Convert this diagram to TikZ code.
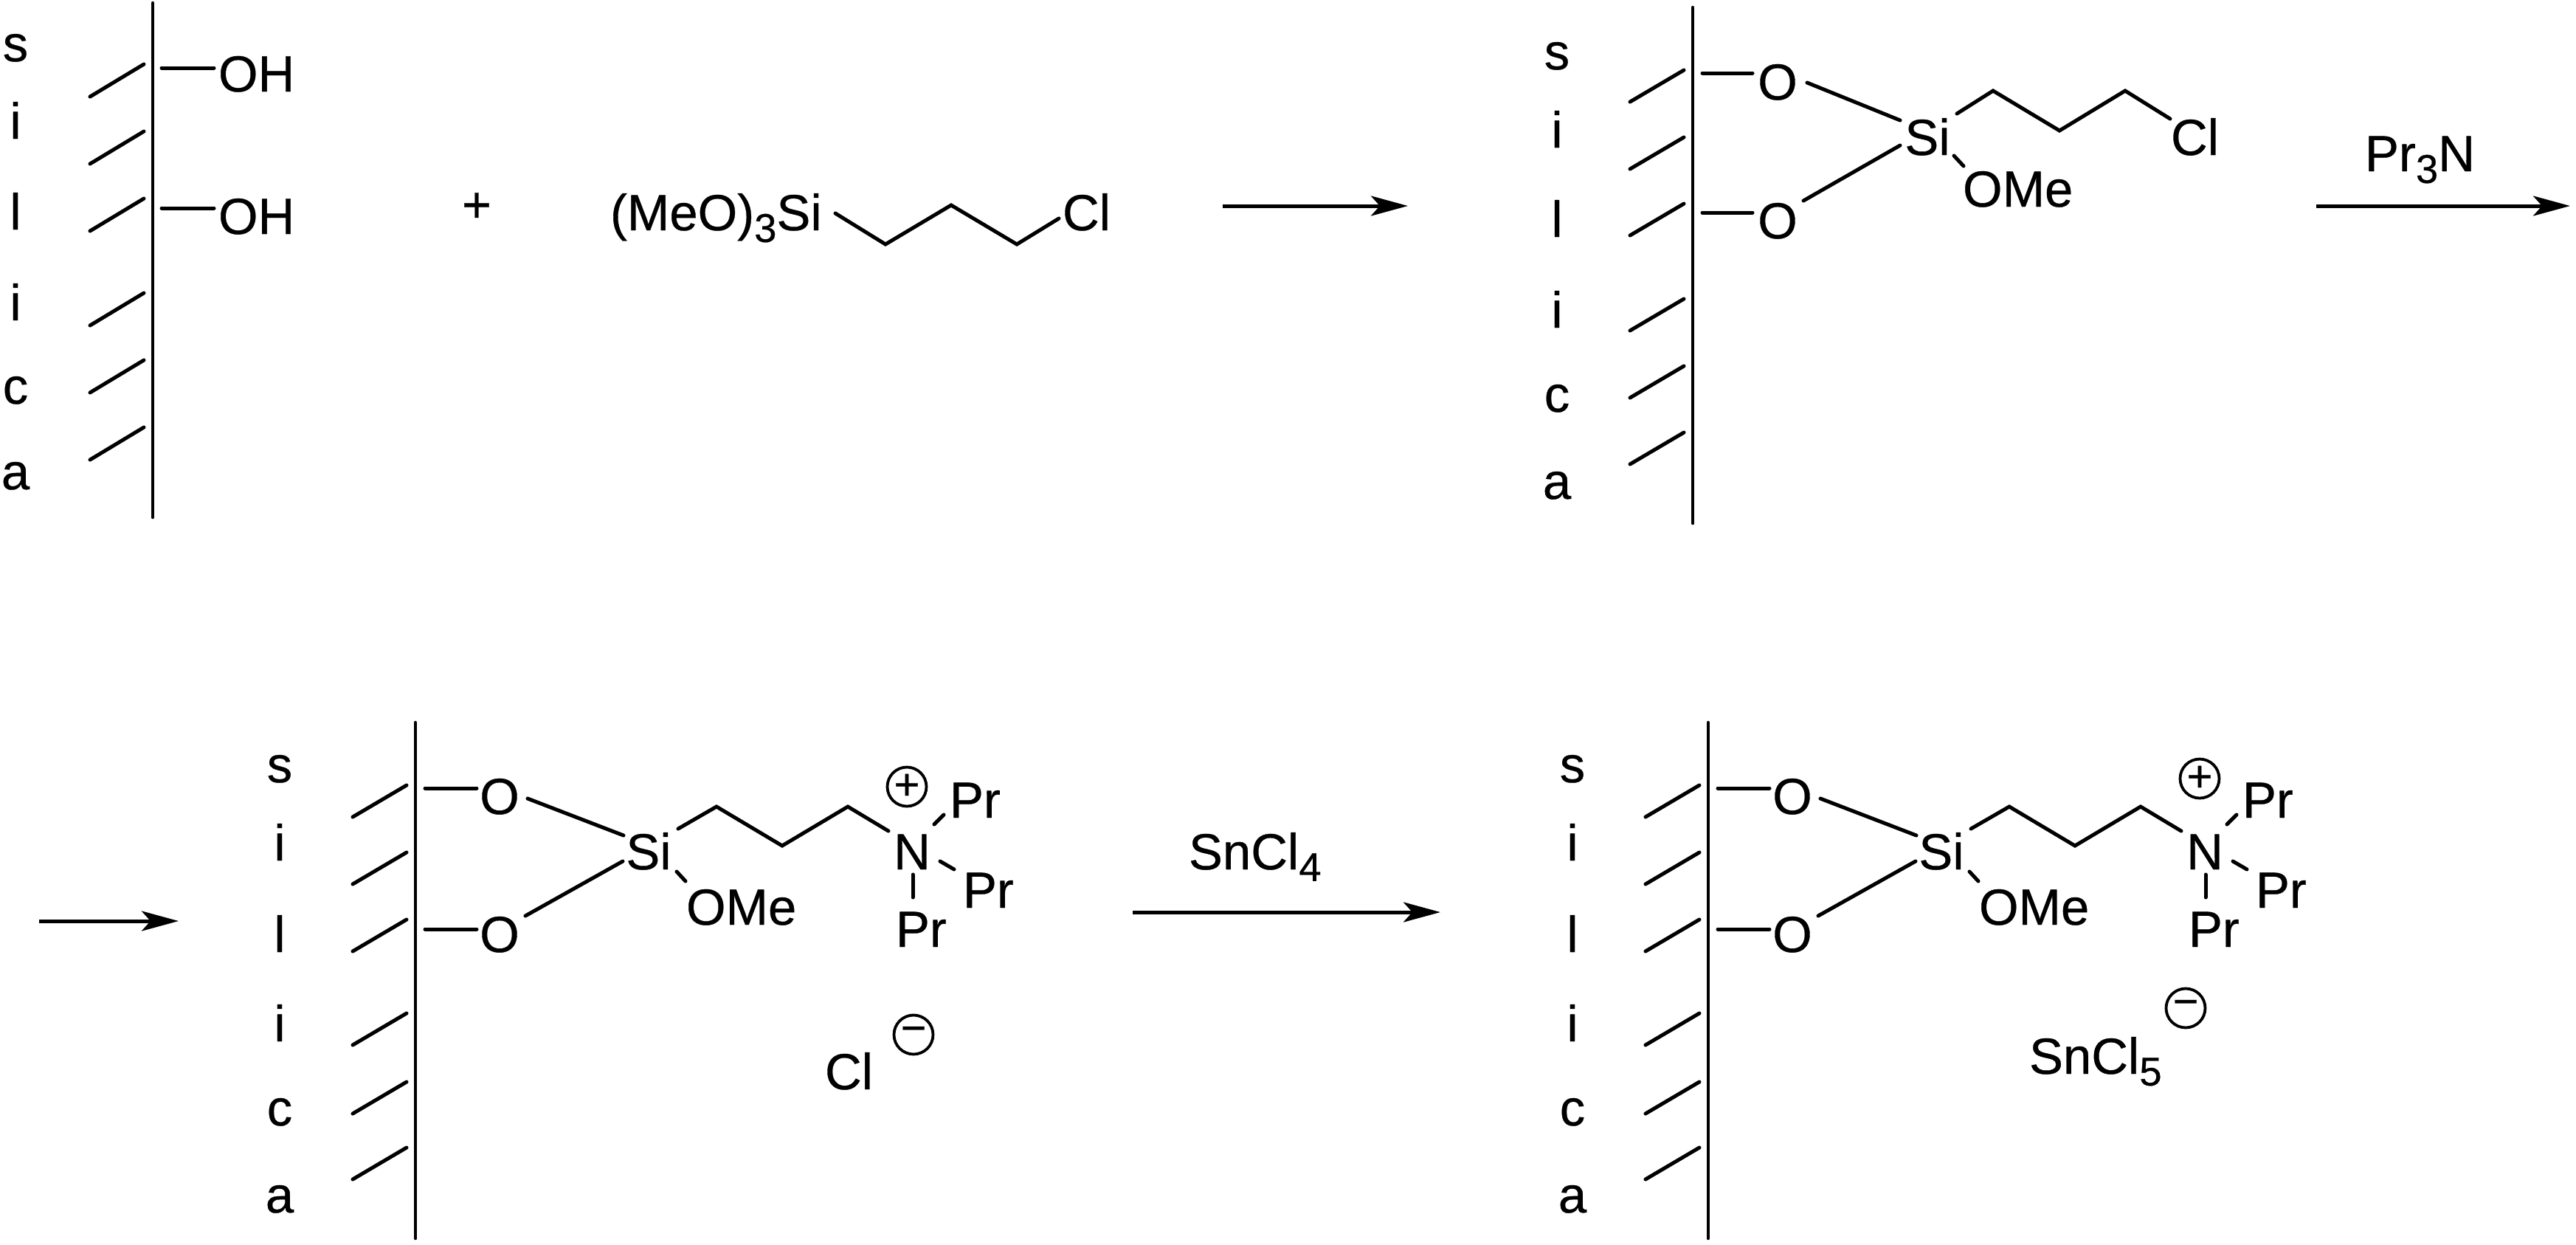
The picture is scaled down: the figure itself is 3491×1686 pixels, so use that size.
\documentclass[tikz,border=0pt]{standalone}
\usepackage{fontspec}
\setmainfont{Liberation Sans}[FakeBold=0.5]
\usetikzlibrary{arrows.meta}
\newcommand\sbs[1]{\raisebox{-4.5pt}{\fontsize{15.5}{15.5}\selectfont #1}}
\tikzset{
  x=0.1mm,y=-0.1mm,
  bond/.style={line width=0.5mm,line cap=round,line join=miter,black},
  wallline/.style={line width=0.45mm,line cap=round,black},
  rxn/.style={line width=0.5mm,black,-{Stealth[length=5mm,width=2.7mm,inset=1.2mm]}},
  atom/.style={inner sep=0pt,outer sep=0pt,font=\fontsize{19.6}{20}\selectfont,anchor=base west},
  catom/.style={atom,anchor=base},
  charge/.style={draw,line width=0.38mm,circle,minimum size=5.3mm,inner sep=0pt,outer sep=0pt,font=\fontsize{17}{17}\selectfont},
}
% wall: prefix, wall x, top y, bottom y, label x, label baselines (6), hash top ys (6), hash drop
\newcommand\silicawall[8]{%
  \coordinate (#1wt) at (#2,#3);
  \coordinate (#1wb) at (#2,#4);
  \draw[wallline] (#1wt) -- (#1wb);
  \foreach \yy [count=\ii] in {#7} {
    \coordinate (#1ha\ii) at ({#2-12},\yy);
    \coordinate (#1hb\ii) at ({#2-85},{\yy+#8});
    \draw[bond] (#1ha\ii) -- (#1hb\ii);
  }
  \foreach \ll/\yy [count=\ii] in {#6} {
    \node[catom] (#1l\ii) at (#5,\yy) {\ll};
  }
}
% cation panel (drawn with panel-3 coordinates, shifted by a scope); arg 1 prefix, arg 2 y of plus circle
\newcommand\cationpanel[2]{%
  \silicawall{#1}{563}{979}{1678}{379}{s/1060,i/1166,l/1290,i/1411,c/1525,a/1643}{1064,1155,1246,1373,1466,1555}{43}
  \node[catom] (#1o) at (677,1103) {O};
  \node[catom] (#1p) at (677,1290) {O};
  \node[catom] (#1si) at (879,1178) {Si};
  \node[catom] (#1n) at (1236,1178) {N};
  \node[atom] (#1ome) at (930,1253) {OMe};
  \node[atom] (#1pra) at (1287,1108) {Pr};
  \node[atom] (#1prb) at (1305,1230) {Pr};
  \node[atom] (#1prc) at (1214,1283) {Pr};
  \node[charge] (#1plus) at (1229,#2) {+};
  \coordinate (#1a1) at (576,1068); \coordinate (#1a2) at (646,1068);
  \coordinate (#1b1) at (576,1259); \coordinate (#1b2) at (646,1259);
  \coordinate (#1c1) at (715,1082); \coordinate (#1c2) at (845,1132);
  \coordinate (#1d1) at (712,1241); \coordinate (#1d2) at (844,1167);
  \coordinate (#1e1) at (919,1123); \coordinate (#1e2) at (971,1093);
  \coordinate (#1e3) at (1060,1146); \coordinate (#1e4) at (1149,1093);
  \coordinate (#1e5) at (1204,1126);
  \coordinate (#1f1) at (917,1181); \coordinate (#1f2) at (929,1194);
  \coordinate (#1g1) at (1266,1117); \coordinate (#1g2) at (1279,1104);
  \coordinate (#1h1) at (1274,1167); \coordinate (#1h2) at (1293,1178);
  \coordinate (#1i1) at (1237,1185); \coordinate (#1i2) at (1237,1216);
  \draw[bond] (#1a1) -- (#1a2);
  \draw[bond] (#1b1) -- (#1b2);
  \draw[bond] (#1c1) -- (#1c2);
  \draw[bond] (#1d1) -- (#1d2);
  \draw[bond] (#1e1) -- (#1e2) -- (#1e3) -- (#1e4) -- (#1e5);
  \draw[bond] (#1f1) -- (#1f2);
  \draw[bond] (#1g1) -- (#1g2);
  \draw[bond] (#1h1) -- (#1h2);
  \draw[bond] (#1i1) -- (#1i2);
}
\begin{document}
\begin{tikzpicture}
\path[fill=white,use as bounding box] (0,0) rectangle (3491,1686);

% ---- panel 1
\silicawall{A}{207}{4}{701}{21}{s/83,i/188,l/311,i/434,c/547,a/663}{87,178,269,397,488,579}{44}
\node[atom] (Aoh) at (296,124) {OH};
\node[atom] (Aoi) at (296,317) {OH};
\coordinate (Aa1) at (219,92); \coordinate (Aa2) at (290,92);
\coordinate (Ab1) at (219,282); \coordinate (Ab2) at (290,282);
\draw[bond] (Aa1) -- (Aa2);
\draw[bond] (Ab1) -- (Ab2);
\node[catom] (plus) at (646,301) {+};
\node[atom] (silane) at (827,312) {(MeO)\sbs{3}Si};
\node[atom] (Acl) at (1440,312) {Cl};
\coordinate (Ac1) at (1132,289); \coordinate (Ac2) at (1200,331);
\coordinate (Ac3) at (1289,278); \coordinate (Ac4) at (1378,331);
\coordinate (Ac5) at (1435,296);
\draw[bond] (Ac1) -- (Ac2) -- (Ac3) -- (Ac4) -- (Ac5);
\coordinate (r1a) at (1657,279); \coordinate (r1b) at (1908,279);
\draw[rxn] (r1a) -- (r1b);

% ---- panel 2
\silicawall{B}{2294}{10}{709}{2110}{s/94,i/200,l/321,i/444,c/558,a/676}{95,186,276,405,496,586}{43}
\node[catom] (Bo) at (2409,135) {O};
\node[catom] (Bp) at (2409,323) {O};
\node[catom] (Bsi) at (2612,210) {Si};
\node[atom] (Bome) at (2660,280) {OMe};
\node[atom] (Bcl) at (2942,210) {Cl};
\coordinate (Ba1) at (2307,99); \coordinate (Ba2) at (2375,99);
\coordinate (Bb1) at (2307,288); \coordinate (Bb2) at (2375,288);
\coordinate (Bc1) at (2449,112); \coordinate (Bc2) at (2575,163);
\coordinate (Bd1) at (2444,272); \coordinate (Bd2) at (2575,197);
\coordinate (Be1) at (2652,154); \coordinate (Be2) at (2701,123);
\coordinate (Be3) at (2791,177); \coordinate (Be4) at (2880,123);
\coordinate (Be5) at (2941,161);
\coordinate (Bf1) at (2648,211); \coordinate (Bf2) at (2661,225);
\draw[bond] (Ba1) -- (Ba2);
\draw[bond] (Bb1) -- (Bb2);
\draw[bond] (Bc1) -- (Bc2);
\draw[bond] (Bd1) -- (Bd2);
\draw[bond] (Be1) -- (Be2) -- (Be3) -- (Be4) -- (Be5);
\draw[bond] (Bf1) -- (Bf2);
\node[atom] (pr3n) at (3205,232) {Pr\sbs{3}N};
\coordinate (r2a) at (3139,279); \coordinate (r2b) at (3483,279);
\draw[rxn] (r2a) -- (r2b);

% ---- panel 3
\coordinate (r3a) at (53,1248); \coordinate (r3b) at (242,1248);
\draw[rxn] (r3a) -- (r3b);
\cationpanel{C}{1066}
\node[atom] (Ccl) at (1118,1476) {Cl};
\node[charge] (Cminus) at (1238,1402) {−};
\node[atom] (sncl4) at (1611,1178) {SnCl\sbs{4}};
\coordinate (r4a) at (1535,1236); \coordinate (r4b) at (1952,1236);
\draw[rxn] (r4a) -- (r4b);

% ---- panel 4
\begin{scope}[xshift=175.2mm]
\cationpanel{D}{1055}
\end{scope}
\node[atom] (sncl5) at (2750,1455) {SnCl\sbs{5}};
\node[charge] (Dminus) at (2962,1366) {−};
\end{tikzpicture}
\end{document}
